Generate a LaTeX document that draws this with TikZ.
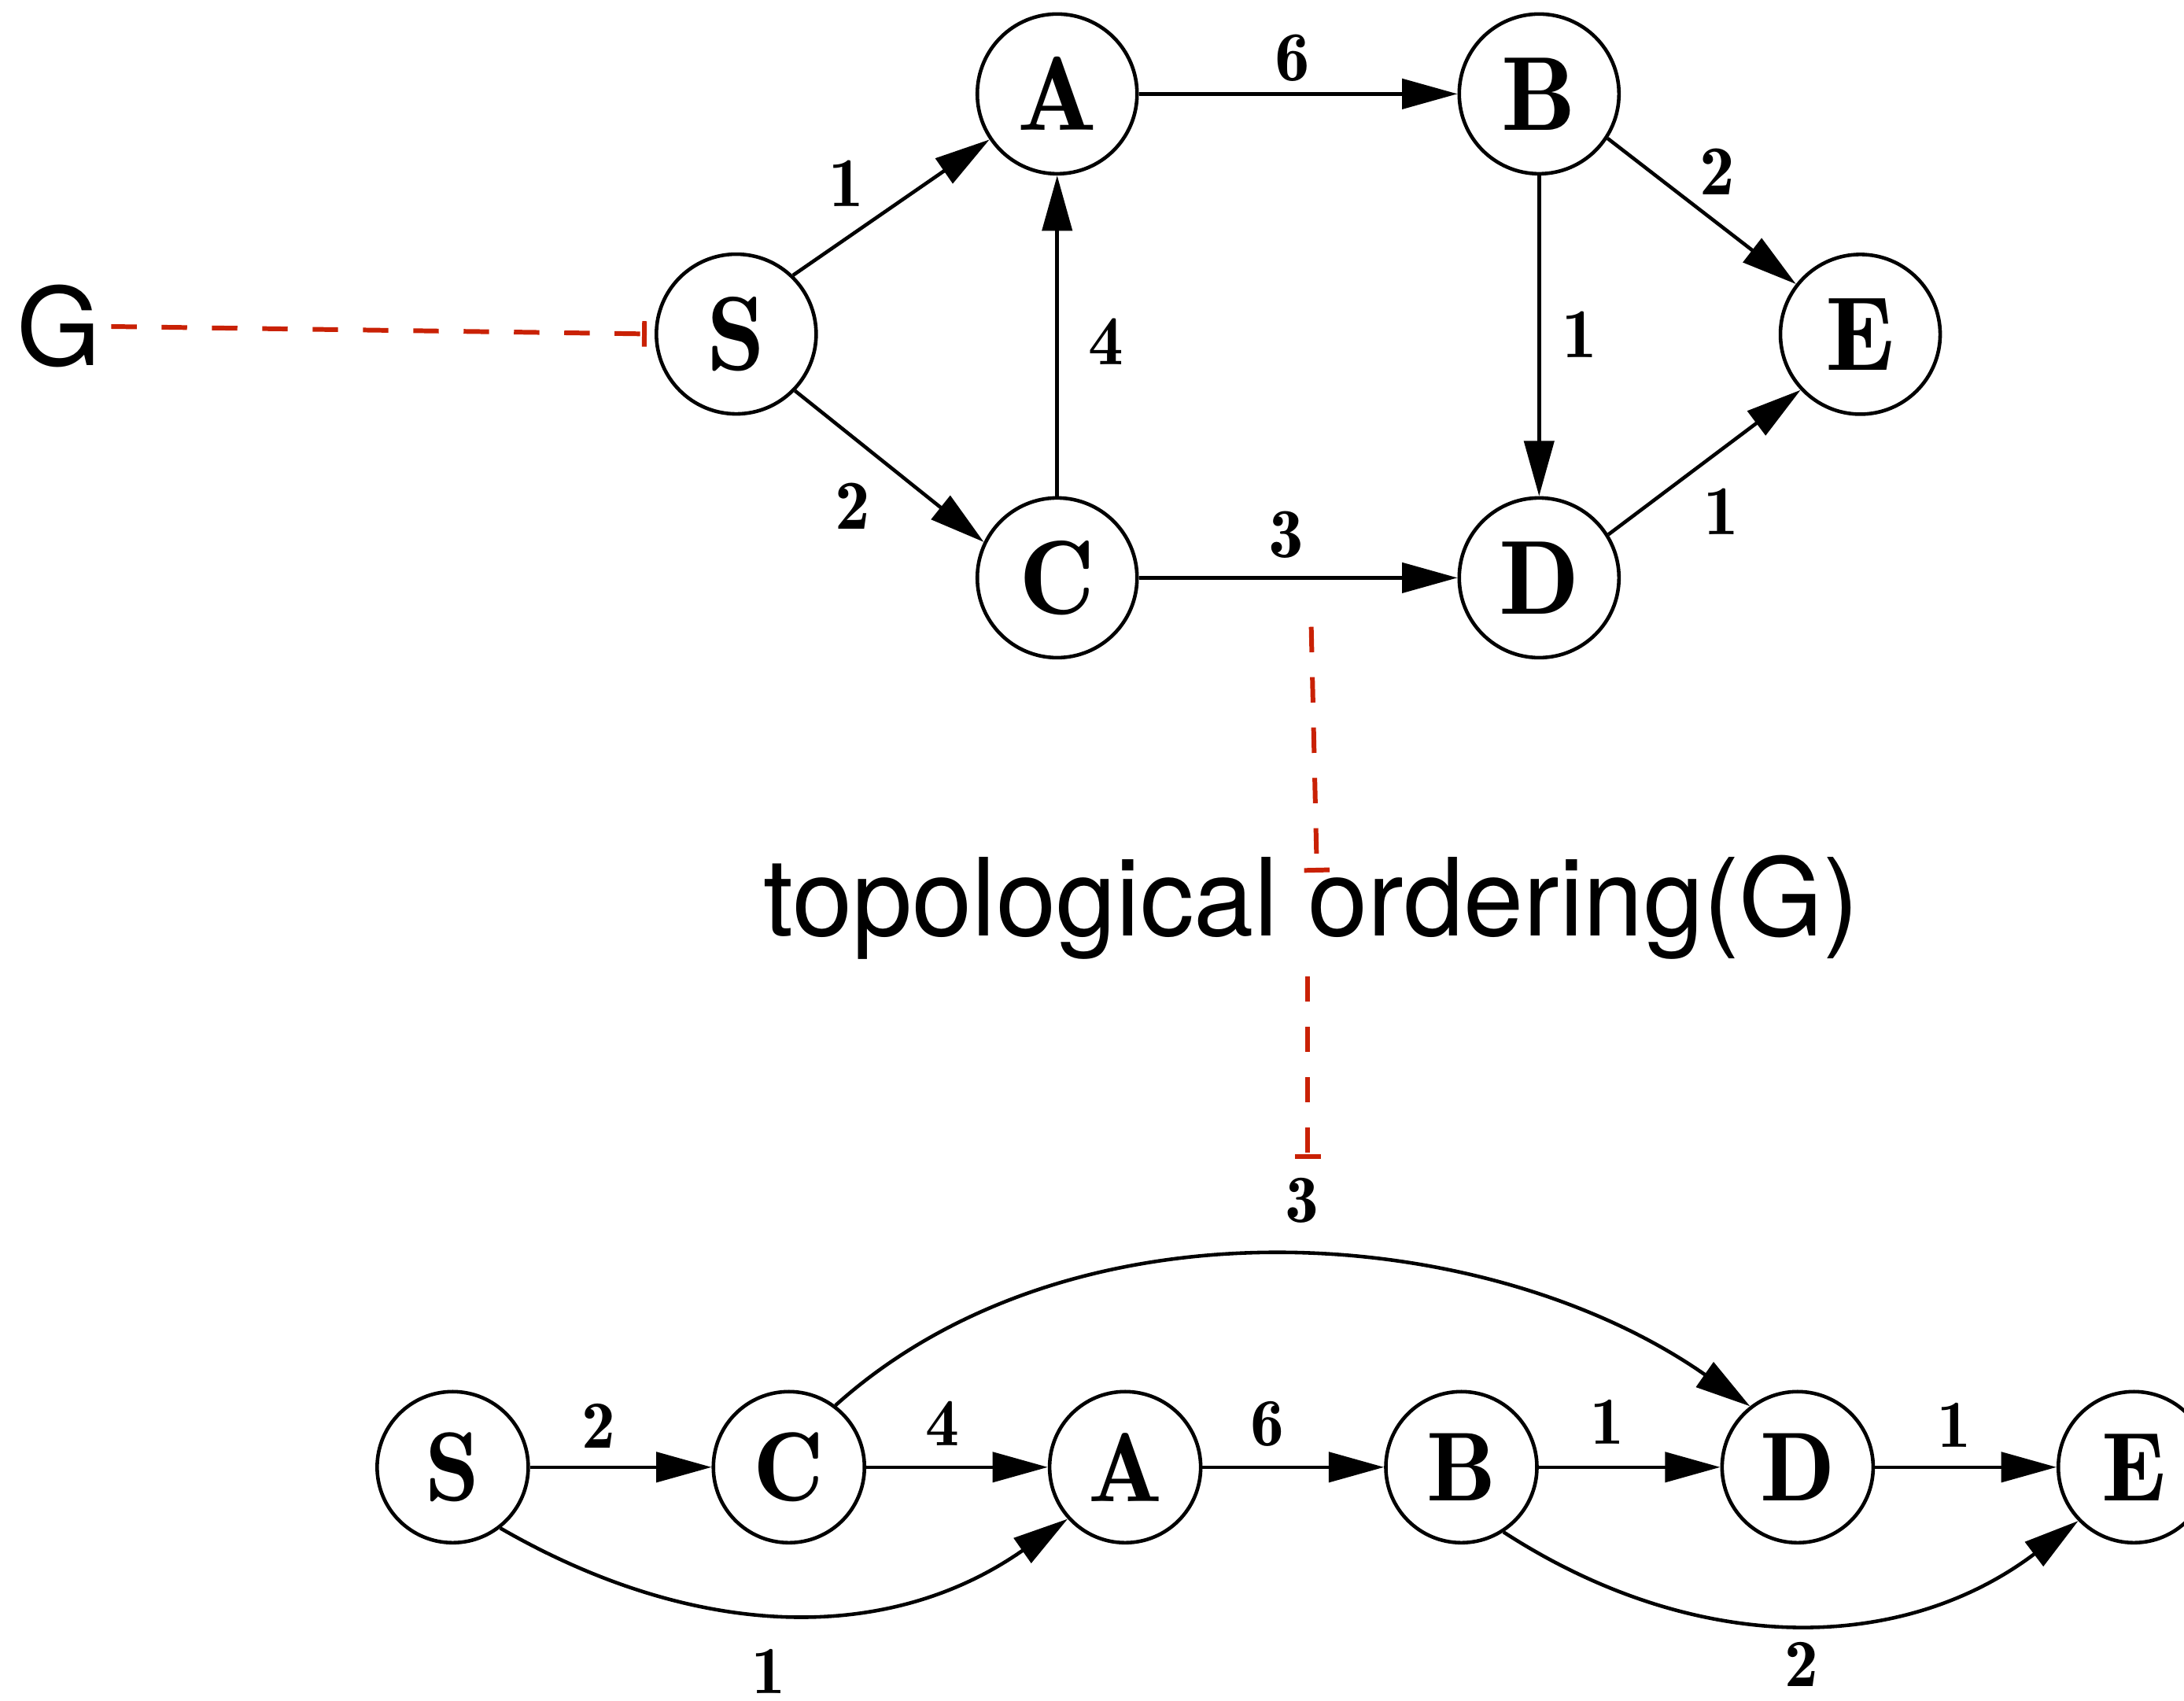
\documentclass[tikz,border=0pt]{standalone}
\usepackage{fontspec}
\newfontfamily\notefont{TeX Gyre Heros}
\newfontfamily\demifont{lmromandemi10-regular.otf}
\usetikzlibrary{arrows.meta,calc}

\definecolor{notered}{RGB}{201,33,5}

\tikzset{
  vert/.style={circle, draw, line width=0.65pt, inner sep=0pt,
    minimum size=1.015cm, font=\demifont\fontsize{19}{19}\selectfont},
  svert/.style={vert, minimum size=0.96cm,
    font=\demifont\fontsize{17.7}{17.7}\selectfont},
  link/.style={line width=0.65pt, -{Triangle[length=10pt,width=5.4pt]}},
  wt/.style={inner sep=0pt, font=\demifont\fontsize{12.7}{12.7}\selectfont},
  swt/.style={wt, font=\demifont\fontsize{12.2}{12.2}\selectfont},
  note/.style={inner sep=0pt, font=\notefont\fontsize{19.5}{19.5}\selectfont},
  pointer/.style={notered, line width=0.85pt, dash pattern=on 4.6pt off 4.5pt,
    -{Bar[width=4.6pt]}},
}

\begin{document}
\begin{tikzpicture}[x=0.885cm, y=0.885cm]
    % Frame (1 unit = 100px of the 1568px-wide view)
    \useasboundingbox (0,0) rectangle (15.68,-12.21);

    % Graph G
    \node[vert] (S) at (5.286,-2.398) {S};
    \node[vert] (A) at (7.59,-0.674) {A};
    \node[vert] (B) at (11.05,-0.674) {B};
    \node[vert] (C) at (7.59,-4.148) {C};
    \node[vert] (D) at (11.05,-4.148) {D};
    \node[vert] (E) at (13.356,-2.40) {E};

    \draw[link] (S.46) -- (A.-146);
    \draw[link] (S.-44) -- (C.154);
    \draw[link] (C) -- (A);
    \draw[link] (A) -- (B);
    \draw[link] (B) -- (D);
    \draw[link] (C) -- (D);
    \draw[link] (B.-33) -- (E.142);
    \draw[link] (D.32) -- (E.-137);

    % Weights of G
    \node[wt] (wSA) at (6.075,-1.32) {1};
    \node[wt] (wSC) at (6.123,-3.636) {2};
    \node[wt] (wCA) at (7.94,-2.45) {4};
    \node[wt] (wAB) at (9.28,-0.416) {6};
    \node[wt] (wBE) at (12.33,-1.23) {2};
    \node[wt] (wBD) at (11.34,-2.40) {1};
    \node[wt] (wDE) at (12.356,-3.67) {1};
    \node[wt] (wCD) at (9.235,-3.84) {3};

    % Same graph, vertices in topological order
    \node[svert] (S2) at (3.25,-10.533) {S};
    \node[svert] (C2) at (5.664,-10.533) {C};
    \node[svert] (A2) at (8.078,-10.533) {A};
    \node[svert] (B2) at (10.492,-10.533) {B};
    \node[svert] (D2) at (12.906,-10.533) {D};
    \node[svert] (E2) at (15.32,-10.533) {E};

    \draw[link] (S2) -- (C2);
    \draw[link] (C2) -- (A2);
    \draw[link] (A2) -- (B2);
    \draw[link] (B2) -- (D2);
    \draw[link] (D2) -- (E2);
    \draw[link] (C2.53) to[out=42, in=145, looseness=0.9] (D2.128);
    \draw[link] (S2.-52) to[out=-30, in=-145] (A2.-138);
    \draw[link] (B2.-57) to[out=-33, in=-143] (E2.-136);

    % Weights of the ordering
    \node[swt] (wSC2) at (4.297,-10.235) {2};
    \node[swt] (wCA2) at (6.767,-10.22) {4};
    \node[swt] (wAB2) at (9.10,-10.22) {6};
    \node[swt] (wBD2) at (11.54,-10.21) {1};
    \node[swt] (wDE2) at (14.03,-10.23) {1};
    \node[swt] (wCD2) at (9.35,-8.62) {3};
    \node[swt] (wSA2) at (5.517,-12.00) {1};
    \node[swt] (wBE2) at (12.936,-11.95) {2};

    % Red pointers and their texts
    \node[note] (G) at (0.422,-2.343) {G};
    \node[note, anchor=base] (ord) at (9.415,-6.72) {topological ordering(G)};
    \coordinate (fromCD) at (9.414,-4.50);
    \coordinate (toW) at (9.39,-8.32);

    \draw[pointer, shorten <=0.06cm, shorten >=0.05cm] (G.east) -- (S.west);
    \draw[pointer] (fromCD) -- ($(ord.north)+(0.04,-0.13)$);
    \draw[pointer, shorten <=0.1cm] ($(ord.south)+(-0.025,0)$) -- (toW);
\end{tikzpicture}
\end{document}
